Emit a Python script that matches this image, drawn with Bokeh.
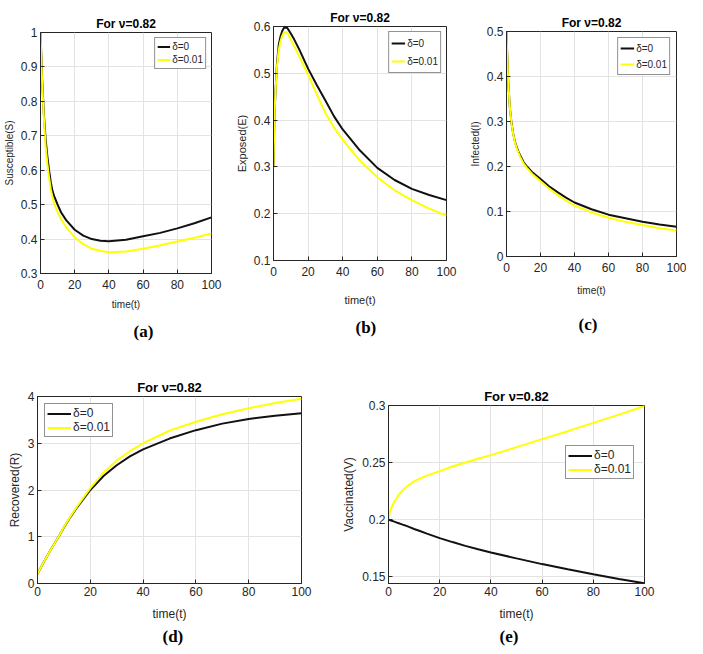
from bokeh.plotting import figure
from bokeh.layouts import row, column
from bokeh.models import Range1d, FixedTicker, Title, Legend, LegendItem
from bokeh.embed import file_html
from bokeh.resources import INLINE

# ---------------- data ----------------
t = [0, 0.5, 1, 2, 3, 4, 5, 6, 7, 8, 10, 12, 15, 20, 25, 30, 35, 40, 50, 60, 70, 80, 90, 100]

S_d0 = [1.0, 0.93, 0.86, 0.76, 0.69, 0.64, 0.60, 0.565, 0.54, 0.525, 0.50, 0.478, 0.455, 0.427, 0.41, 0.40, 0.395, 0.394, 0.398, 0.408, 0.418, 0.431, 0.446, 0.463]
S_d1 = [1.0, 0.925, 0.85, 0.75, 0.67, 0.62, 0.58, 0.545, 0.52, 0.503, 0.478, 0.458, 0.435, 0.405, 0.385, 0.372, 0.366, 0.362, 0.364, 0.372, 0.382, 0.393, 0.404, 0.416]

E_d0 = [0.3, 0.40, 0.45, 0.52, 0.56, 0.578, 0.59, 0.597, 0.598, 0.597, 0.585, 0.572, 0.55, 0.51, 0.475, 0.442, 0.408, 0.38, 0.335, 0.298, 0.272, 0.253, 0.24, 0.229]
E_d1 = [0.3, 0.40, 0.45, 0.515, 0.55, 0.568, 0.58, 0.587, 0.588, 0.586, 0.572, 0.558, 0.535, 0.497, 0.455, 0.415, 0.384, 0.358, 0.313, 0.278, 0.25, 0.229, 0.211, 0.196]

I_d0 = [0.5, 0.44, 0.39, 0.33, 0.295, 0.272, 0.255, 0.243, 0.233, 0.225, 0.21, 0.2, 0.188, 0.172, 0.156, 0.143, 0.131, 0.12, 0.105, 0.093, 0.085, 0.077, 0.071, 0.066]
I_d1 = [0.5, 0.44, 0.39, 0.33, 0.294, 0.271, 0.253, 0.241, 0.231, 0.222, 0.207, 0.197, 0.184, 0.167, 0.151, 0.137, 0.124, 0.113, 0.098, 0.086, 0.077, 0.070, 0.063, 0.058]

R_d0 = [0.2, 0.26, 0.31, 0.42, 0.52, 0.62, 0.72, 0.815, 0.91, 1.0, 1.2, 1.38, 1.63, 2.0, 2.3, 2.53, 2.72, 2.87, 3.1, 3.28, 3.42, 3.52, 3.59, 3.64]
R_d1 = [0.2, 0.26, 0.31, 0.42, 0.52, 0.62, 0.72, 0.815, 0.91, 1.0, 1.21, 1.39, 1.65, 2.04, 2.37, 2.63, 2.83, 3.0, 3.27, 3.46, 3.62, 3.75, 3.86, 3.95]

V_d0 = [0.2, 0.1996, 0.1992, 0.1984, 0.1976, 0.1968, 0.196, 0.1952, 0.1945, 0.1936, 0.1918, 0.1902, 0.1877, 0.1838, 0.1803, 0.177, 0.174, 0.1712, 0.166, 0.161, 0.1565, 0.1522, 0.148, 0.1442]
V_d1 = [0.2, 0.2065, 0.2095, 0.2145, 0.218, 0.2215, 0.2245, 0.2266, 0.2285, 0.2303, 0.2335, 0.2357, 0.2385, 0.2425, 0.2465, 0.25, 0.2533, 0.2565, 0.2635, 0.2705, 0.2775, 0.2848, 0.292, 0.2995]

x_ticks = [0, 20, 40, 60, 80, 100]
S_ticks = [0.3, 0.4, 0.5, 0.6, 0.7, 0.8, 0.9, 1.0]
S_labels = ["0.3", "0.4", "0.5", "0.6", "0.7", "0.8", "0.9", "1"]
E_ticks = [0.1, 0.2, 0.3, 0.4, 0.5, 0.6]
E_labels = ["0.1", "0.2", "0.3", "0.4", "0.5", "0.6"]
I_ticks = [0, 0.1, 0.2, 0.3, 0.4, 0.5]
I_labels = ["0", "0.1", "0.2", "0.3", "0.4", "0.5"]
R_ticks = [0, 1, 2, 3, 4]
R_labels = ["0", "1", "2", "3", "4"]
V_ticks = [0.15, 0.2, 0.25, 0.3]
V_labels = ["0.15", "0.2", "0.25", "0.3"]

series_labels = ["δ=0", "δ=0.01"]
title_text = "For ν=0.82"

BLACK = "#111111"
YELLOW = "#ffff00"
AX = "#262626"
FONT = "Liberation Sans"


def make_panel(ys, yr, yticks, ylabels, ylab, caption, cap_off,
               mbl, fw, mbr, mbt, fh, mbb, tick_fs, lab_fs, title_fs,
               leg_loc, leg_margin, leg_fs, glyph_w, item_h,
               xtick_so, xlab_so, cap_so):
    p = figure(output_backend="svg", toolbar_location=None,
               width=mbl + fw + mbr, height=mbt + fh + mbb,
               min_border_left=mbl, min_border_right=mbr,
               min_border_top=mbt, min_border_bottom=mbb,
               x_range=Range1d(0, 100), y_range=Range1d(*yr),
               background_fill_color="white", border_fill_color="white")
    p.title.text = title_text
    p.title.align = "center"
    p.title.text_font = FONT
    p.title.text_font_style = "bold"
    p.title.text_font_size = title_fs
    p.title.text_color = "black"
    p.title.standoff = 4
    p.outline_line_color = AX
    p.outline_line_alpha = 1.0
    p.outline_line_width = 1

    p.xaxis.ticker = FixedTicker(ticks=x_ticks)
    p.yaxis.ticker = FixedTicker(ticks=yticks)
    p.yaxis.major_label_overrides = {v: s for v, s in zip(yticks, ylabels)}
    p.xaxis.axis_label = "time(t)"
    p.yaxis.axis_label = ylab
    for ax in (p.xaxis, p.yaxis):
        ax.axis_line_color = AX
        ax.major_tick_line_color = AX
        ax.major_tick_in = 4
        ax.major_tick_out = 0
        ax.minor_tick_line_color = None
        ax.major_label_text_font = FONT
        ax.major_label_text_font_size = tick_fs
        ax.major_label_text_color = AX
        ax.major_label_standoff = 3
        ax.axis_label_text_font = FONT
        ax.axis_label_text_font_size = lab_fs
        ax.axis_label_text_font_style = "normal"
        ax.axis_label_text_color = AX
        ax.axis_label_standoff = 3
    p.xaxis.major_label_standoff = xtick_so
    p.xaxis.axis_label_standoff = xlab_so
    p.grid.grid_line_color = "#e3e3e3"

    r0 = p.line(t, ys[0], line_color=BLACK, line_width=2)
    r1 = p.line(t, ys[1], line_color=YELLOW, line_width=2)
    leg = Legend(items=[LegendItem(label=series_labels[0], renderers=[r0]),
                        LegendItem(label=series_labels[1], renderers=[r1])],
                 location=leg_loc, margin=leg_margin, padding=2, spacing=0,
                 label_standoff=2, glyph_width=glyph_w, glyph_height=item_h,
                 label_height=item_h, label_text_font=FONT,
                 label_text_font_size=leg_fs, label_text_color=AX,
                 border_line_color=AX, border_line_width=1,
                 background_fill_alpha=1.0)
    p.add_layout(leg, "center")

    cap = Title(text=caption, align="left", offset=cap_off,
                text_font="Liberation Serif", text_font_style="bold",
                text_font_size="17px", text_color="black", standoff=cap_so)
    p.add_layout(cap, "below")
    return p


pa = make_panel((S_d0, S_d1), (0.3, 1.0), S_ticks, S_labels, "Susceptible(S)", "(a)", 93,
                32, 179, 21, 32, 241, 74, "12px", "10px", "12px", "top_right", 5, "10px", 13, 13,
                6, 7, 14)
pb = make_panel((E_d0, E_d1), (0.1, 0.6), E_ticks, E_labels, "Exposed(E)", "(b)", 82,
                36, 178, 20, 26, 234, 87, "12px", "11px", "12px", "top_right", 5, "10px", 14, 18,
                6, 15, 14)
pc = make_panel((I_d0, I_d1), (0.0, 0.5), I_ticks, I_labels, "Infected(I)", "(c)", 72,
                32, 178, 10, 31, 230, 86, "12px", "10px", "12px", "top_right", 6, "10px", 14, 16,
                6, 10, 28)
pd = make_panel((R_d0, R_d1), (0.0, 4.0), R_ticks, R_labels, "Recovered(R)", "(d)", 125,
                37, 264, 36, 49, 187, 63, "12px", "12px", "13px", "top_left", 7, "12px", 24, 11,
                3, 8, 2)
pe = make_panel((V_d0, V_d1), (0.144, 0.3), V_ticks, V_labels, "Vaccinated(V)", "(e)", 111,
                51, 256, 15, 58, 179, 62, "12px", "12px", "13px", (177, 104), 0, "12px", 24, 13,
                3, 8, 2)

layout = column(row(column(pa), column(pb), column(pc)), row(column(pd), column(pe)))
open("out.html", "w").write(file_html(layout, INLINE))
